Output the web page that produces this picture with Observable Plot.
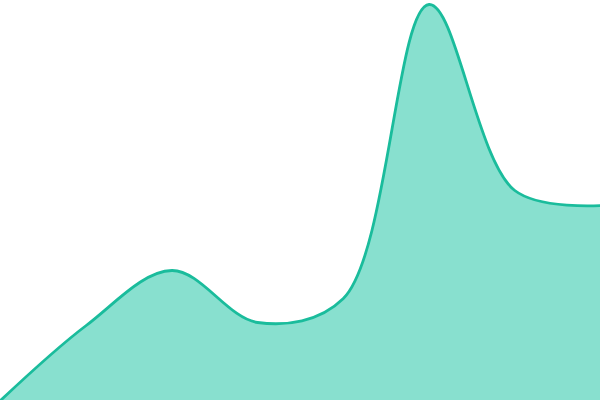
<!DOCTYPE html>
<html>
<head>
<meta charset="utf-8">
<script src="https://cdn.jsdelivr.net/npm/d3@7"></script>
<script src="https://cdn.jsdelivr.net/npm/@observablehq/plot@0.6"></script>
<style>
html,body{margin:0;padding:0;background:#fff;}
</style>
</head>
<body>
<div id="chart"></div>
<script>
const xs = [0, 1, 2, 3, 4, 5, 6, 7];
const values = [0, 75, 130, 78, 102, 396, 210, 195];
const data = xs.map((x, i) => ({x, y: values[i]}));
const chart = Plot.plot({
  width: 600,
  height: 400,
  margin: 0,
  x: {domain: [0, 7], axis: null},
  y: {domain: [0, 400], axis: null},
  marks: [
    Plot.areaY(data, {x: "x", y: "y", curve: "catmull-rom", fill: "#88e0cf"}),
    Plot.lineY(data, {x: "x", y: "y", curve: "catmull-rom", stroke: "#1abc9c", strokeWidth: 2.8})
  ]
});
document.getElementById("chart").appendChild(chart);
</script>
</body>
</html>
